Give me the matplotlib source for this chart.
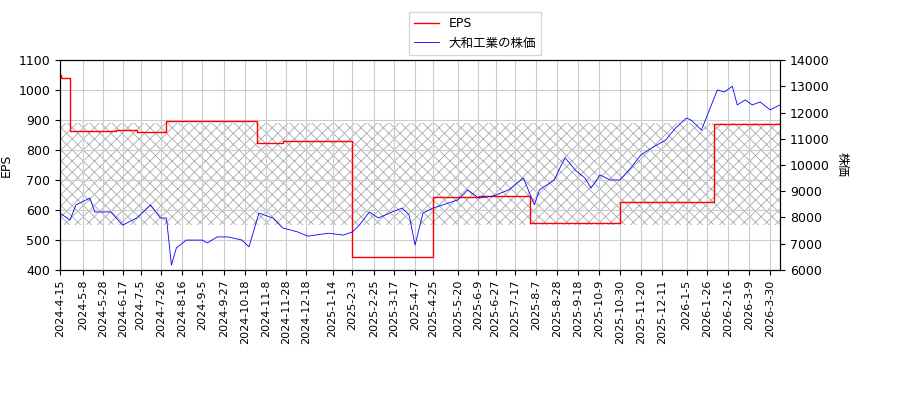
import matplotlib
matplotlib.use("Agg")
import matplotlib.pyplot as plt
import pandas as pd

plt.rcParams['font.family'] = ['DejaVu Sans', 'Noto Sans CJK JP']
plt.rcParams['hatch.linewidth'] = 0.6

eps_dates = ["2024-04-15","2024-04-16","2024-04-25","2024-06-10","2024-07-01","2024-07-31","2024-09-15","2024-10-30","2024-11-25","2025-02-03","2025-04-25","2025-06-10","2025-08-01","2025-10-30","2026-02-02","2026-04-09"]
eps_vals  = [1050,1040,862,866,860,898,896,822,830,445,645,648,555,625,887,890]

price_dates = ["2024-04-15","2024-04-25","2024-05-01","2024-05-15","2024-05-20","2024-06-05","2024-06-17","2024-07-01","2024-07-15","2024-07-25","2024-07-31","2024-08-05","2024-08-10","2024-08-20","2024-09-05","2024-09-10","2024-09-20","2024-10-01","2024-10-15","2024-10-22","2024-11-01","2024-11-15","2024-11-25","2024-12-10","2024-12-20","2025-01-10","2025-01-25","2025-02-03","2025-02-10","2025-02-20","2025-03-01","2025-03-15","2025-03-25","2025-04-01","2025-04-07","2025-04-15","2025-04-25","2025-05-05","2025-05-20","2025-05-30","2025-06-10","2025-06-25","2025-07-10","2025-07-25","2025-08-05","2025-08-10","2025-08-25","2025-09-01","2025-09-05","2025-09-15","2025-09-25","2025-10-01","2025-10-10","2025-10-20","2025-10-30","2025-11-10","2025-11-20","2025-12-01","2025-12-15","2025-12-25","2026-01-05","2026-01-10","2026-01-20","2026-01-28","2026-02-05","2026-02-12","2026-02-20","2026-02-25","2026-03-05","2026-03-12","2026-03-20","2026-03-30","2026-04-09"]
price_vals = [8170,7900,8480,8740,8210,8210,7710,7980,8480,7980,7980,6190,6840,7140,7140,7030,7260,7260,7140,6880,8170,7980,7600,7450,7290,7400,7330,7450,7710,8210,7980,8210,8360,8100,6950,8170,8360,8480,8670,9050,8740,8820,9050,9500,8480,9050,9430,10000,10270,9810,9500,9120,9620,9430,9430,9890,10380,10650,10950,11410,11790,11700,11330,12100,12860,12780,13000,12290,12480,12290,12400,12100,12290]

eps = pd.Series(eps_vals, index=pd.to_datetime(eps_dates))
price = pd.Series(price_vals, index=pd.to_datetime(price_dates))

tick_labels = ["2024-4-15","2024-5-8","2024-5-28","2024-6-17","2024-7-5","2024-7-26","2024-8-16","2024-9-5","2024-9-27","2024-10-18","2024-11-8","2024-11-28","2024-12-18","2025-1-14","2025-2-3","2025-2-25","2025-3-17","2025-4-7","2025-4-25","2025-5-20","2025-6-9","2025-6-27","2025-7-17","2025-8-7","2025-8-28","2025-9-18","2025-10-9","2025-10-30","2025-11-20","2025-12-11","2026-1-5","2026-1-26","2026-2-16","2026-3-9","2026-3-30"]

fig, ax = plt.subplots(figsize=(9, 4), dpi=100)
fig.subplots_adjust(left=0.0667, right=0.8667, top=0.85, bottom=0.325)

xmin, xmax = pd.Timestamp("2024-04-15"), pd.Timestamp("2026-04-09")
ax.fill_between([xmin, xmax], 550, 890, facecolor='none', edgecolor='#aaaaaa', hatch='xxx', linewidth=0)
l1, = ax.step(eps.index, eps.values, where='post', color='red', lw=1, label='EPS')
ax.set_ylim(400, 1100)
ax.set_xlim(xmin, xmax)
ax.set_ylabel('EPS', fontsize=9)
ax.grid(True, color='#cccccc', lw=0.8)
ax.set_xticks(pd.to_datetime(tick_labels))
ax.set_xticklabels(tick_labels, rotation=90, fontsize=8)
ax.tick_params(axis='y', labelsize=9)

ax2 = ax.twinx()
l2, = ax2.plot(price.index, price.values, color='blue', lw=0.6, label='大和工業の株価')
ax2.set_ylim(6000, 14000)
ax2.set_ylabel('株価', rotation=270, labelpad=14, fontsize=9)
ax2.tick_params(axis='y', labelsize=9)

fig.legend([l1, l2], ['EPS', '大和工業の株価'], loc='upper center', bbox_to_anchor=(0.528, 0.985), fontsize=9, fancybox=False)
fig.savefig('out.png')
